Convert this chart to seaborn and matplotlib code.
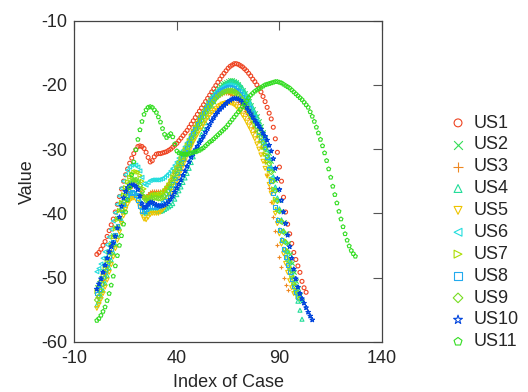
import numpy as np
import matplotlib
matplotlib.use("Agg")
import matplotlib.pyplot as plt
import seaborn as sns

series_names = ["US1", "US2", "US3", "US4", "US5", "US6", "US7", "US8", "US9", "US10", "US11"]

us1 = [-46.4, -46.1, -45.6, -45.0, -44.4, -43.6, -42.7, -41.8, -40.9, -39.8,
       -38.6, -37.4, -36.2, -35.0, -34.0, -33.1, -32.2, -31.4, -30.7, -30.1,
       -29.6, -29.5, -29.6, -29.9, -30.5, -31.3, -32.0, -31.8, -31.2, -30.8,
       -30.7, -30.7, -30.6, -30.5, -30.4, -30.2, -30.0, -29.7, -29.4, -29.1,
       -28.7, -28.3, -27.9, -27.5, -27.1, -26.6, -26.1, -25.6, -25.1, -24.6,
       -24.1, -23.6, -23.1, -22.6, -22.1, -21.6, -21.1, -20.6, -20.1, -19.6,
       -19.1, -18.6, -18.2, -17.8, -17.4, -17.1, -16.9, -16.7, -16.7, -16.8,
       -17.0, -17.2, -17.5, -17.8, -18.2, -18.6, -19.1, -19.5, -20.0, -20.5,
       -21.1, -21.8, -22.6, -23.5, -24.4, -25.3, -26.6, -28.4, -30.5, -32.8,
       -35.0, -37.5, -39.8, -41.7, -43.2, -44.7, -46.1, -47.2, -48.2, -49.2,
       -50.6, -51.6, -52.3]

us2 = [-51.5, -50.8, -50.0, -49.0, -48.0, -46.9, -45.8, -44.6, -43.4, -42.1,
       -40.8, -39.5, -38.3, -37.2, -36.3, -35.6, -35.1, -34.8, -34.7, -34.8,
       -35.2, -35.9, -36.8, -37.5, -37.6, -37.3, -37.0, -36.9, -36.9, -37.0,
       -37.0, -37.0, -36.8, -36.5, -36.1, -35.6, -35.0, -34.3, -33.6, -32.9,
       -32.2, -31.5, -30.8, -30.1, -29.4, -28.7, -28.0, -27.3, -26.6, -25.9,
       -25.2, -24.6, -24.0, -23.4, -22.8, -22.3, -21.8, -21.3, -20.9, -20.5,
       -20.2, -19.9, -19.7, -19.5, -19.4, -19.3, -19.3, -19.4, -19.6, -19.9,
       -20.3, -20.8, -21.3, -21.9, -22.5, -23.1, -23.7, -24.3, -24.9, -25.6,
       -26.4, -27.3, -28.3, -29.4, -30.6, -31.9, -33.3, -34.8, -36.4, -38.0,
       -39.7, -41.4, -43.1, -44.7, -46.3, -47.8, -49.2, -50.5, -51.7, -52.7,
       -53.6]

us3 = [-53.0, -52.3, -51.4, -50.4, -49.3, -48.2, -47.0, -45.8, -44.6, -43.4,
       -42.1, -40.8, -39.6, -38.5, -37.5, -36.7, -36.1, -35.7, -35.5, -35.6,
       -36.0, -36.6, -37.3, -37.6, -37.4, -37.0, -36.7, -36.6, -36.6, -36.6,
       -36.6, -36.5, -36.3, -36.0, -35.6, -35.1, -34.5, -33.8, -33.1, -32.4,
       -31.7, -31.0, -30.3, -29.6, -28.9, -28.2, -27.5, -26.9, -26.3, -25.7,
       -25.1, -24.6, -24.1, -23.6, -23.2, -22.8, -22.5, -22.2, -21.9, -21.7,
       -21.5, -21.4, -21.3, -21.3, -21.3, -21.4, -21.6, -21.9, -22.2, -22.6,
       -23.0, -23.5, -24.0, -24.6, -25.2, -25.8, -26.5, -27.2, -27.9, -28.7,
       -29.6, -30.6, -32.0, -34.0, -36.0, -38.3, -40.6, -42.8, -45.0, -46.8,
       -48.4, -50.0, -51.2, -52.0]

us4 = [-54.3, -53.7, -52.9, -52.0, -50.9, -49.7, -48.5, -47.3, -46.1, -44.9,
       -43.6, -42.3, -41.0, -39.8, -38.8, -38.0, -37.4, -37.0, -36.8, -36.9,
       -37.3, -38.0, -39.0, -39.8, -40.0, -39.8, -39.6, -39.5, -39.5, -39.6,
       -39.7, -39.7, -39.6, -39.4, -39.2, -39.0, -38.8, -38.5, -37.8, -37.1,
       -36.5, -35.9, -35.2, -34.5, -33.8, -33.0, -32.1, -31.2, -30.4, -29.5,
       -28.6, -27.7, -26.8, -25.9, -25.0, -24.1, -23.3, -22.6, -21.9, -21.3,
       -20.8, -20.4, -20.1, -19.8, -19.6, -19.5, -19.5, -19.5, -19.6, -19.8,
       -20.1, -20.5, -21.0, -21.6, -22.2, -22.9, -23.6, -24.3, -25.1, -25.9,
       -26.8, -27.8, -28.9, -30.1, -31.4, -32.8, -34.3, -35.9, -37.6, -39.3,
       -41.0, -42.7, -44.4, -46.0, -47.6, -49.2, -50.8, -52.3, -53.7, -55.1,
       -56.5]

us5 = [-54.8, -54.2, -53.4, -52.5, -51.5, -50.4, -49.2, -48.0, -46.8, -45.5,
       -44.2, -42.9, -41.6, -40.4, -39.4, -38.6, -38.0, -37.7, -37.6, -37.8,
       -38.3, -39.1, -40.2, -40.9, -41.0, -40.6, -40.2, -40.0, -40.0, -40.0,
       -40.0, -39.8, -39.5, -39.1, -38.6, -38.0, -37.3, -36.6, -35.8, -35.0,
       -34.2, -33.4, -32.6, -31.8, -31.0, -30.3, -29.6, -28.9, -28.3, -27.7,
       -27.1, -26.6, -26.1, -25.6, -25.1, -24.7, -24.3, -24.0, -23.7, -23.4,
       -23.2, -23.0, -22.9, -22.8, -22.8, -22.8, -22.9, -23.1, -23.4, -23.8,
       -24.2, -24.7, -25.2, -25.8, -26.4, -27.0, -27.7, -28.4, -29.2, -30.0,
       -30.9, -31.9, -33.0, -34.2, -35.5, -36.9, -38.4, -40.0, -41.6, -43.2,
       -44.8, -46.3, -47.8, -49.2, -50.5, -51.6, -52.5]

us6 = [-49.1, -48.6, -47.9, -47.0, -46.0, -44.9, -43.7, -42.5, -41.2, -39.9,
       -38.6, -37.3, -36.1, -35.0, -34.0, -33.3, -32.8, -32.5, -32.4, -32.5,
       -32.8, -33.4, -34.4, -35.4, -35.6, -35.2, -34.9, -34.8, -34.8, -34.8,
       -34.8, -34.7, -34.6, -34.4, -34.1, -33.8, -33.4, -33.0, -32.5, -32.0,
       -31.4, -30.8, -30.2, -29.6, -29.0, -28.4, -27.8, -27.2, -26.6, -26.0,
       -25.4, -24.8, -24.2, -23.6, -23.0, -22.5, -22.0, -21.6, -21.2, -20.9,
       -20.6, -20.4, -20.2, -20.1, -20.0, -20.0, -20.1, -20.2, -20.4, -20.7,
       -21.0, -21.4, -21.9, -22.4, -23.0, -23.6, -24.3, -25.0, -25.8, -26.7,
       -27.7, -28.8, -30.0, -31.4, -32.9, -34.5, -36.2, -37.9, -39.6, -41.3,
       -42.9, -44.5, -46.0, -47.4, -48.7, -49.9, -51.0, -52.0, -52.8, -53.5]

us7 = [-52.2, -51.5, -50.7, -49.7, -48.6, -47.4, -46.2, -45.0, -43.7, -42.4,
       -41.0, -39.6, -38.3, -37.1, -36.0, -35.1, -34.4, -33.9, -33.6, -33.5,
       -33.6, -34.1, -35.0, -36.2, -37.4, -37.8, -37.5, -37.2, -37.1, -37.1,
       -37.1, -37.0, -36.8, -36.5, -36.1, -35.6, -35.0, -34.3, -33.6, -32.9,
       -32.2, -31.5, -30.8, -30.1, -29.4, -28.7, -28.0, -27.3, -26.7, -26.1,
       -25.5, -24.9, -24.4, -23.9, -23.4, -23.0, -22.6, -22.3, -22.0, -21.7,
       -21.5, -21.3, -21.2, -21.1, -21.0, -21.0, -21.1, -21.2, -21.4, -21.7,
       -22.1, -22.5, -23.0, -23.6, -24.2, -24.8, -25.5, -26.2, -27.0, -27.8,
       -28.7, -29.7, -30.8, -32.0, -33.3, -34.7, -36.2, -37.8, -39.4, -41.0,
       -42.6, -44.1, -45.6, -47.0, -48.4, -49.7, -50.9, -52.0, -53.0]

us8 = [-52.5, -51.8, -51.0, -50.0, -48.9, -47.8, -46.7, -45.6, -44.5, -43.3,
       -42.0, -40.7, -39.5, -38.5, -37.7, -37.1, -36.8, -36.7, -36.8, -37.2,
       -37.9, -38.9, -39.6, -39.6, -39.3, -39.0, -38.9, -38.9, -39.0, -39.0,
       -38.9, -38.7, -38.4, -38.0, -37.5, -36.9, -36.2, -35.4, -34.6, -33.8,
       -33.0, -32.2, -31.4, -30.6, -29.8, -29.0, -28.2, -27.5, -26.8, -26.1,
       -25.5, -24.9, -24.3, -23.8, -23.3, -22.8, -22.4, -22.0, -21.6, -21.3,
       -21.0, -20.8, -20.6, -20.4, -20.3, -20.3, -20.4, -20.5, -20.7, -21.0,
       -21.4, -21.9, -22.4, -23.0, -23.6, -24.3, -25.0, -25.7, -26.5, -27.3,
       -28.1, -28.9, -29.7, -31.2, -33.0, -35.0, -36.9, -39.0, -41.0, -42.6,
       -44.2, -45.6, -46.8, -48.0, -49.1, -50.3, -51.4, -52.3, -53.0]

us9 = [-53.5, -52.9, -52.1, -51.1, -50.0, -48.8, -47.6, -46.3, -45.0, -43.6,
       -42.2, -40.8, -39.4, -38.2, -37.1, -36.2, -35.5, -35.0, -34.8, -34.8,
       -35.1, -35.7, -36.6, -37.5, -38.0, -38.0, -37.8, -37.7, -37.6, -37.6,
       -37.7, -37.7, -37.6, -37.4, -37.0, -36.5, -35.9, -35.2, -34.5, -33.8,
       -33.1, -32.4, -31.7, -31.0, -30.3, -29.6, -28.9, -28.2, -27.5, -26.8,
       -26.2, -25.6, -25.0, -24.4, -23.9, -23.4, -22.9, -22.5, -22.1, -21.8,
       -21.5, -21.3, -21.1, -21.0, -20.9, -20.9, -20.9, -21.0, -21.2, -21.5,
       -21.9, -22.3, -22.8, -23.3, -23.9, -24.5, -25.1, -25.8, -26.5, -27.3,
       -28.1, -29.0, -30.0, -31.1, -32.3, -33.6, -35.0, -36.5, -38.1, -39.7,
       -41.3, -42.9, -44.5, -46.0, -47.5, -48.9, -50.2, -51.4, -52.4, -53.3]

us10 = [-51.8, -51.0, -50.2, -49.2, -48.1, -47.0, -46.0, -45.2, -44.6, -43.6,
        -42.3, -40.6, -38.9, -37.6, -36.6, -36.0, -35.7, -35.6, -35.6, -35.8,
        -36.3, -37.3, -38.5, -39.1, -39.0, -38.6, -38.3, -38.3, -38.5, -38.7,
        -38.8, -38.9, -38.8, -38.7, -38.5, -38.2, -37.8, -37.3, -36.7, -36.1,
        -35.5, -34.8, -34.1, -33.4, -32.7, -32.0, -31.3, -30.7, -30.1, -29.6,
        -29.0, -28.5, -28.0, -27.4, -26.8, -26.2, -25.6, -25.1, -24.6, -24.2,
        -23.8, -23.5, -23.2, -22.9, -22.6, -22.4, -22.2, -22.1, -22.1, -22.2,
        -22.4, -22.7, -23.1, -23.5, -24.0, -24.5, -25.0, -25.5, -26.0, -26.4,
        -26.9, -27.5, -28.0, -28.6, -29.4, -30.3, -31.5, -33.0, -34.6, -36.3,
        -38.0, -39.8, -41.6, -43.4, -45.2, -47.0, -48.7, -50.2, -51.5, -52.5,
        -53.3, -54.0, -54.7, -55.4, -56.0, -56.6]

us11 = [-56.7, -56.4, -55.9, -55.3, -54.6, -53.6, -52.5, -51.2, -49.8, -48.2,
        -46.6, -45.0, -43.5, -41.7, -39.8, -37.9, -36.0, -34.0, -32.0, -30.1,
        -28.5, -27.0, -25.7, -24.6, -23.9, -23.5, -23.4, -23.5, -23.9, -24.3,
        -25.0, -25.8, -26.8, -27.7, -28.2, -27.9, -27.6, -28.1, -29.2, -30.3,
        -30.6, -30.7, -30.8, -30.8, -30.8, -30.7, -30.6, -30.5, -30.4, -30.3,
        -30.2, -30.0, -29.8, -29.5, -29.2, -28.9, -28.7, -28.4, -28.1, -27.8,
        -27.5, -27.2, -26.9, -26.6, -26.2, -25.8, -25.4, -25.0, -24.6, -24.2,
        -23.8, -23.4, -23.0, -22.5, -22.0, -21.6, -21.3, -21.0, -20.8, -20.6,
        -20.4, -20.2, -20.0, -19.9, -19.8, -19.7, -19.6, -19.5, -19.5, -19.6,
        -19.7, -19.9, -20.1, -20.3, -20.5, -20.8, -21.1, -21.4, -21.7, -22.0,
        -22.3, -22.7, -23.1, -23.5, -24.2, -24.9, -25.7, -26.6, -27.5, -28.5,
        -29.5, -30.6, -31.8, -33.1, -34.4, -35.8, -37.1, -38.4, -39.7, -40.9,
        -42.1, -43.2, -44.2, -45.1, -45.8, -46.3, -46.7]

series_values = [us1, us2, us3, us4, us5, us6, us7, us8, us9, us10, us11]
series_colors = ["#ee4422", "#33dd55", "#ee8822", "#22dd99", "#eec400", "#22dddd",
                 "#aadd00", "#22aaee", "#77dd22", "#0044dd", "#33dd22"]
series_markers = ["o", "x", "+", "^", "v", "<", ">", "s", "D", "*", "p"]
series_sizes = [8, 10, 12, 8, 8, 8, 8, 7, 6, 11, 9]

x_ticks = [-10, 40, 90, 140]
y_ticks = [-60, -50, -40, -30, -20, -10]

sns.set_style("white")
plt.rcParams["font.family"] = ["Liberation Sans", "DejaVu Sans"]
plt.rcParams["axes.unicode_minus"] = False

fig = plt.figure(figsize=(5.28, 3.92), dpi=100)
ax = fig.add_axes([0.1407, 0.1283, 0.5828, 0.8189])

for name, ys, col, m, s in zip(series_names, series_values, series_colors,
                               series_markers, series_sizes):
    xs = np.arange(1, len(ys) + 1)
    if m in ("x", "+"):
        sns.scatterplot(x=xs, y=ys, ax=ax, marker=m, color=col, s=s,
                        linewidth=0.8, label=name)
    else:
        sns.scatterplot(x=xs, y=ys, ax=ax, marker=m, color=col, facecolor="none",
                        edgecolor=col, s=s, linewidth=0.8, label=name)

ax.set_xlim(-10, 140)
ax.set_ylim(-60, -10)
ax.set_xticks(x_ticks)
ax.set_yticks(y_ticks)
ax.tick_params(direction="in", length=6.5, width=0.8, color="#555555",
               top=True, right=True, labelsize=13, pad=5)
ax.tick_params(axis="x", pad=6)
for sp in ax.spines.values():
    sp.set_color("#444444")
    sp.set_linewidth(0.9)
ax.set_xlabel("Index of Case", fontsize=13, labelpad=5)
ax.set_ylabel("Value", fontsize=13, labelpad=4)

ax.legend(loc="center left", bbox_to_anchor=(0.8367, 0.4069),
          bbox_transform=fig.transFigure, frameon=False, fontsize=13,
          markerscale=2.0, handlelength=1.0, handletextpad=0.39,
          labelspacing=0.27, borderaxespad=0, scatterpoints=1)

fig.savefig("out.png", dpi=100)
